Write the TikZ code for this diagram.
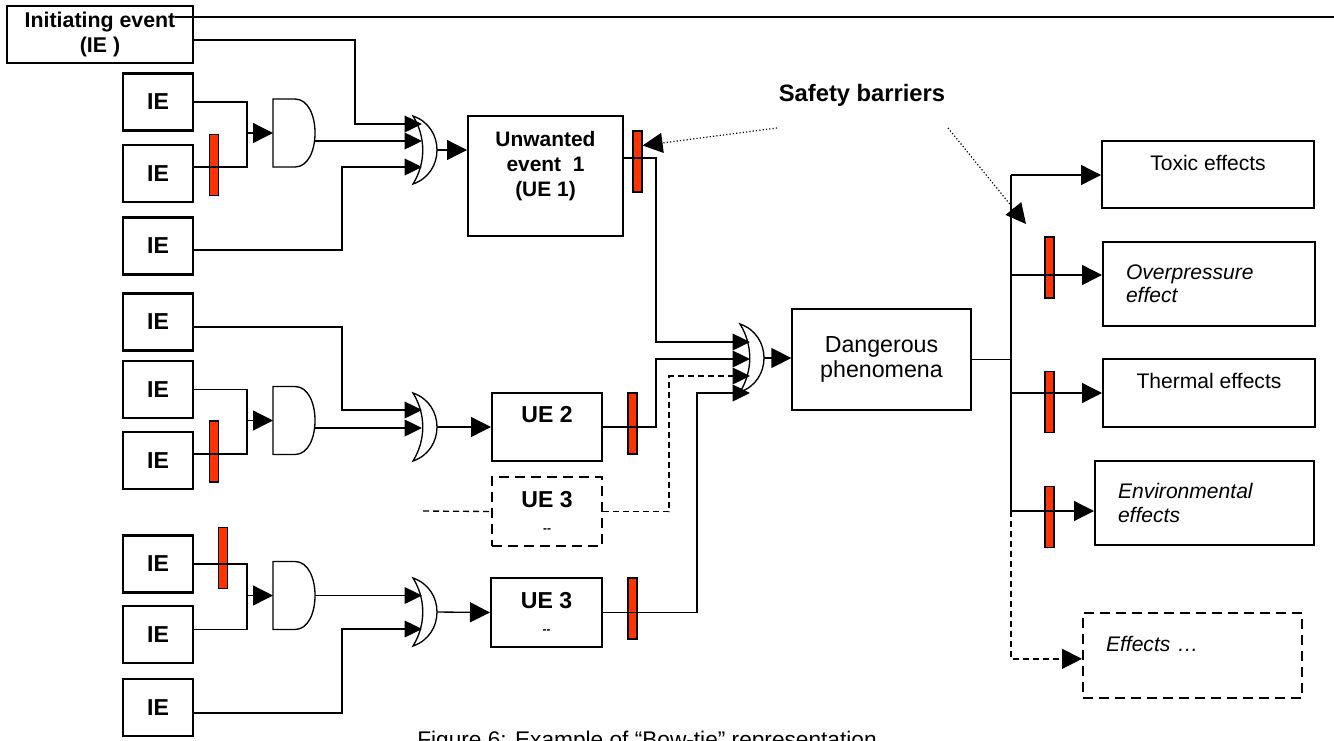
\documentclass[tikz,border=0pt]{standalone}
\usepackage{fontspec}
\setmainfont{Liberation Sans}
\usetikzlibrary{arrows.meta}
\definecolor{barred}{HTML}{FF3300}

\begin{document}
\begin{tikzpicture}[x=0.75pt,y=-0.75pt,
 ie/.style={draw,line width=1.6pt,minimum width=52.5pt,minimum height=42.75pt,inner sep=0pt,font=\fontsize{17.3}{18.75}\selectfont\bfseries},
 ue/.style={draw,line width=1.5pt,align=center,inner sep=0pt,font=\fontsize{17.3}{18.75}\selectfont\bfseries},
 dbox/.style={dash pattern=on 7.5pt off 4.5pt},
 eff/.style={draw,line width=1.5pt,minimum width=159pt,inner sep=0pt,align=center,font=\fontsize{15.8}{17.5}\selectfont},
 effit/.style={eff,align=left,inner xsep=17.25pt,text width=124.5pt,font=\fontsize{15.8}{17.5}\selectfont\itshape},
 barrier/.style={draw,line width=1.2pt,fill=barred,minimum width=6.5pt,minimum height=45.5pt,inner sep=0pt},
 gateline/.style={draw,line width=1pt,fill=white},
 wire/.style={line width=1pt},
 dwire/.style={wire,dash pattern=on 4.5pt off 3pt},
 a/.style={wire,-{Triangle[length=15pt,width=15pt]}},
 ain/.style={wire,-{Triangle[length=13pt,width=12.5pt]}},
 dot/.style={line width=0.9pt,dash pattern=on 0.9pt off 1.6pt,-{Triangle[length=15pt,width=15pt]}},
 andgate/.pic={
  \draw[gateline] (0,-34) -- (22,-34) .. controls (48.7,-34) and (48.7,34) .. (22,34) -- (0,34) -- cycle;
  \coordinate (-in) at (0,0);
  \coordinate (-out) at (42,0);
 },
 orgate/.pic={
  \draw[gateline] (0,-34) .. controls (13,-13) and (13,13) .. (0,34) .. controls (32,23) and (32,-23) .. (0,-34) -- cycle;
  \coordinate (-out) at (24,0);
 }]
\useasboundingbox (0,0) rectangle (1334,740);

% header rule
\draw[line width=1.5pt] (175,17) -- (1334,17);

% initiating events
\node[ie,minimum width=139.5pt,align=center,font=\fontsize{16}{18.75}\selectfont\bfseries] (ie0) at (100,34.5) {Initiating event\\(IE )};
\node[ie] (ie1) at (158,102) {IE};
\node[ie] (ie2) at (158,173.5) {IE};
\node[ie] (ie3) at (158,246) {IE};
\node[ie] (ie4) at (158,322) {IE};
\node[ie] (ie5) at (158,389.5) {IE};
\node[ie] (ie6) at (158,460.5) {IE};
\node[ie] (ie7) at (158,564) {IE};
\node[ie] (ie8) at (158,634.5) {IE};
\node[ie] (ie9) at (158,707.5) {IE};

% unwanted events and dangerous phenomenon
\node[ue,minimum width=116.25pt,minimum height=90pt,font=\fontsize{15.7}{18.75}\selectfont\bfseries] (ue1) at (545.5,176) {Unwanted\\event~~1\\(UE 1)\\\mbox{}};
\node[ue,minimum width=82.5pt,minimum height=51pt] (ue2) at (547,427) {UE 2\\\mbox{}};
\node[ue,dbox,minimum width=82.5pt,minimum height=51.75pt] (ue3d) at (547,511.5) {UE 3\\{\fontsize{9}{10}\selectfont -{}-}};
\node[ue,minimum width=83.25pt,minimum height=51.75pt] (ue3) at (546.5,612.5) {UE 3\\{\fontsize{9}{10}\selectfont -{}-}};
\node[draw,line width=1pt,minimum width=134.25pt,minimum height=75.75pt,align=center,font=\fontsize{17.4}{18.75}\selectfont] (dang) at (881.5,359.5) {Dangerous\\phenomena};

% effects
\node[eff,minimum height=50.25pt] (toxic) at (1208,174.5) {Toxic effects\\\mbox{}};
\node[effit,minimum height=63pt] (overp) at (1209,284) {Overpressure\\effect};
\node[eff,minimum height=51pt] (therm) at (1209,393) {Thermal effects\\\mbox{}};
\node[effit,minimum height=63pt,text width=129.75pt] (env) at (1204.5,503) {Environmental\\effects};
\node[effit,dbox,minimum height=63.75pt,text width=129.75pt] (effx) at (1192.5,655.5) {Effects …\\\mbox{}};

% safety barriers
\node[barrier] (bar1) at (214,165) {};
\node[barrier] (bar2) at (637.5,161.5) {};
\node[barrier] (bar3) at (214,451.5) {};
\node[barrier] (bar4) at (632.5,423.5) {};
\node[barrier] (bar5) at (223,558) {};
\node[barrier] (bar6) at (632.5,608.5) {};
\node[barrier] (bar7) at (1049.5,267.5) {};
\node[barrier] (bar8) at (1049.5,402) {};
\node[barrier] (bar9) at (1049.5,517) {};

% gates
\pic (and1) at (273,133) {andgate};
\pic (and2) at (273,420.5) {andgate};
\pic (and3) at (273,595.5) {andgate};
\pic (or1) at (413,150) {orgate};
\pic (or2) at (413,427) {orgate};
\pic (or3) at (740,358) {orgate};
\pic (or4) at (413,612) {orgate};

% bends and gate inputs
\coordinate (j1) at (247,133); \coordinate (j2) at (247,420.5); \coordinate (j3) at (247,595.5);
\coordinate (k1) at (355,124); \coordinate (o1a) at (422,124);
\coordinate (o1b) at (422,141);
\coordinate (k2) at (342,167); \coordinate (o1c) at (422,167);
\coordinate (k4) at (342,410); \coordinate (o2a) at (422,410);
\coordinate (o2b) at (422,428);
\coordinate (o4a) at (422,595.5);
\coordinate (k8) at (342,629); \coordinate (o4b) at (422,629);
\coordinate (k3) at (656,342); \coordinate (o3a) at (750,342);
\coordinate (k5) at (656,359); \coordinate (o3b) at (750,359);
\coordinate (k6) at (669,376); \coordinate (o3c) at (750,376);
\coordinate (k7) at (697,393); \coordinate (o3d) at (750,393);
\coordinate (u3in) at (423,511);
\coordinate (bt) at (1011,175); \coordinate (bb) at (1011,511);

% left part of the bow-tie
\draw[ain] ([yshift=-4pt]ie0.east) -| (k1) -- (o1a);
\draw[wire] (ie1.east) -| (j1) |- ([yshift=5pt]ie2.east);
\draw[a] (j1) -- (and1-in);
\draw[ain] (and1-out |- o1b) -- (o1b);
\draw[ain] ([yshift=-3pt]ie3.east) -| (k2) -- (o1c);
\draw[a] (or1-out) -- (or1-out -| ue1.west);

\draw[ain] ([yshift=-3.75pt]ie4.east) -| (k4) -- (o2a);
\draw[wire] (ie5.east) -| (j2) |- ([yshift=5pt]ie6.east);
\draw[a] (j2) -- (and2-in);
\draw[ain] (and2-out |- o2b) -- (o2b);
\draw[a] (or2-out) -- (ue2.west);

\draw[wire] (ie7.east) -| (j3) |- ([yshift=4pt]ie8.east);
\draw[a] (j3) -- (and3-in);
\draw[ain] (and3-out) -- (o4a);
\draw[ain] ([yshift=-4pt]ie9.east) -| (k8) -- (o4b);
\draw[a] (or4-out) -- (ue3.west);

\draw[ain] ([yshift=13.5pt]ue1.east) -| (k3) -- (o3a);
\draw[ain] (ue2.east) -| (k5) -- (o3b);
\draw[dwire] (u3in) -- (ue3d.west);
\draw[dwire,-{Triangle[length=13pt,width=12.5pt]}] (ue3d.east) -| (k6) -- (o3c);
\draw[ain] (ue3.east) -| (k7) -- (o3d);
\draw[a] (or3-out) -- (or3-out -| dang.west);

% right part of the bow-tie
\draw[wire] (dang.east) -- (dang.east -| bt);
\draw[a] (bt) -- (bt -| toxic.west);
\draw[a] (bt) |- ([yshift=6.75pt]overp.west);
\draw[a] (bt) |- (therm.west);
\draw[a] (bt) |- ([yshift=-6pt]env.west);
\draw[dwire,-{Triangle[length=15pt,width=15pt]}] (bb) |- ([yshift=-2.5pt]effx.west);

% annotation
\node[inner sep=0pt,font=\fontsize{17.8}{20}\selectfont\bfseries] (sb) at (862,95) {Safety barriers};
\coordinate (sb1) at (777,128); \coordinate (sb2) at (948,128); \coordinate (sbt) at (1026,224);
\draw[dot] (sb1) -- ([yshift=12pt]bar2.east);
\draw[dot] (sb2) -- (sbt);

% caption, cut by the page edge
\node[anchor=base west,inner sep=0pt,font=\fontsize{17}{18}\selectfont] (cap) at (417,747) {Figure 6: Example of “Bow-tie” representation};
\end{tikzpicture}
\end{document}
